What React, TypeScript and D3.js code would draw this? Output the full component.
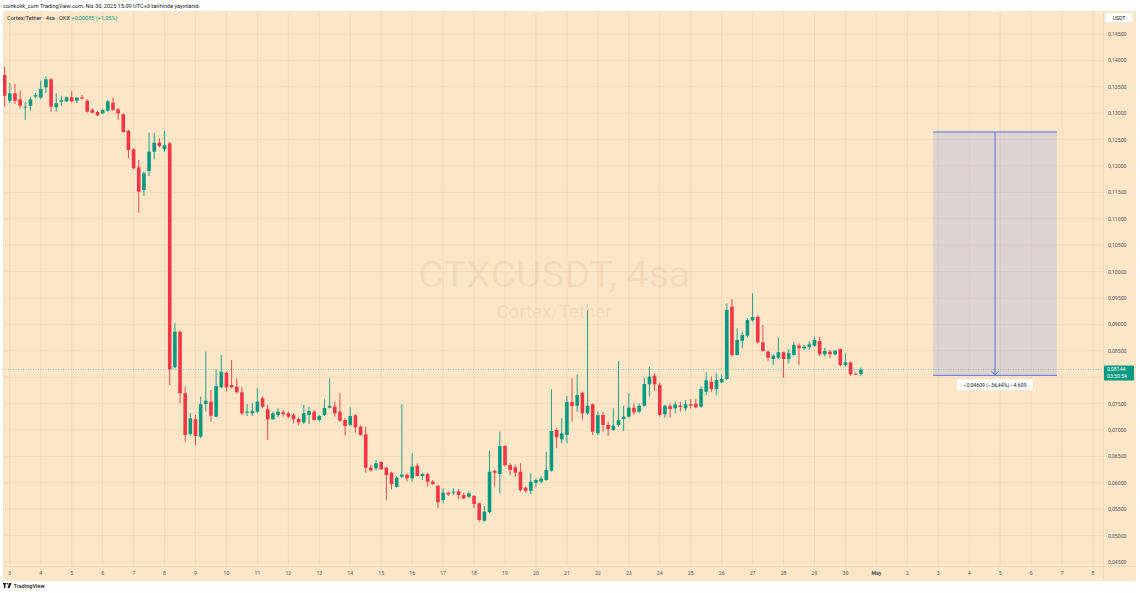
import React from "react";
import * as d3 from "d3";

// ---- DATA (CTX/USDT, 4h candles, first candle 2 Apr 2025 20:00) ----
const opens = [
  0.13723, 0.13237, 0.13377, 0.13263, 0.13112, 0.13142, 0.13313, 0.13294, 0.13491, 0.13642,
  0.13112, 0.13218, 0.13225, 0.13301, 0.13237, 0.13301, 0.13237, 0.13061, 0.13023, 0.12998,
  0.13047, 0.13199, 0.13074, 0.12979, 0.12669, 0.12316, 0.11975, 0.11545, 0.11905, 0.12271,
  0.12441, 0.12316, 0.1243, 0.08188, 0.08862, 0.07695, 0.06924, 0.07203, 0.06873, 0.07493,
  0.07536, 0.07252, 0.07809, 0.08085, 0.07852, 0.0782, 0.07714, 0.07328, 0.07316, 0.07347,
  0.07601, 0.07392, 0.07203, 0.07284, 0.07335, 0.07316, 0.07284, 0.07209, 0.07146, 0.07284,
  0.07347, 0.0719, 0.07284, 0.07423, 0.07441, 0.07347, 0.0719, 0.07095, 0.07279, 0.07063,
  0.06919, 0.06286, 0.06275, 0.06394, 0.06286, 0.06191, 0.05921, 0.06116, 0.06154, 0.06085,
  0.06324, 0.06129, 0.06167, 0.06021, 0.05945, 0.05674, 0.05813, 0.05813, 0.05839, 0.05769,
  0.05737, 0.0575, 0.05612, 0.05282, 0.05442, 0.06224, 0.06167, 0.06697, 0.06337, 0.06294,
  0.0621, 0.05907, 0.05849, 0.06002, 0.06021, 0.06053, 0.06229, 0.07, 0.06824, 0.06906,
  0.0753, 0.0746, 0.07707, 0.07316, 0.07487, 0.06938, 0.07284, 0.07095, 0.07, 0.07095,
  0.07209, 0.07252, 0.07423, 0.07347, 0.0746, 0.07866, 0.08028, 0.07852, 0.07298, 0.07455,
  0.07411, 0.0746, 0.07411, 0.07487, 0.07498, 0.07441, 0.07726, 0.07915, 0.07777, 0.07903,
  0.07966, 0.09335, 0.08421, 0.08686, 0.08786, 0.09078, 0.09146, 0.08661, 0.08483, 0.08345,
  0.08369, 0.08472, 0.08345, 0.08421, 0.08597, 0.08547, 0.08572, 0.08597, 0.08686, 0.08434,
  0.08483, 0.08434, 0.08534, 0.08231, 0.08282, 0.08066, 0.08059,
];
const highs = [
  0.13881, 0.13572, 0.13553, 0.13426, 0.13218, 0.13307, 0.13388, 0.13616, 0.13705, 0.13661,
  0.13377, 0.13332, 0.13313, 0.1342, 0.13301, 0.13345, 0.13263, 0.13093, 0.13047, 0.13085,
  0.1325, 0.13294, 0.13093, 0.12998, 0.12682, 0.12335, 0.12114, 0.11892, 0.12631, 0.12631,
  0.12525, 0.12663, 0.12455, 0.09032, 0.0888, 0.0782, 0.07322, 0.07284, 0.07631, 0.08483,
  0.07758, 0.0815, 0.08421, 0.08104, 0.08326, 0.07979, 0.0782, 0.07493, 0.07517, 0.0779,
  0.07631, 0.07474, 0.07347, 0.07411, 0.07379, 0.07347, 0.07316, 0.07241, 0.07474, 0.07441,
  0.07379, 0.07284, 0.07582, 0.07979, 0.07536, 0.07695, 0.07222, 0.0743, 0.073, 0.0709,
  0.07063, 0.06337, 0.06432, 0.06407, 0.06305, 0.0621, 0.06129, 0.07487, 0.0618, 0.06559,
  0.0637, 0.06191, 0.06191, 0.06053, 0.05959, 0.05896, 0.05832, 0.05896, 0.05877, 0.05813,
  0.05832, 0.05769, 0.05623, 0.05561, 0.06608, 0.06243, 0.06968, 0.06716, 0.0637, 0.06337,
  0.0637, 0.05927, 0.0618, 0.06085, 0.06116, 0.06589, 0.07771, 0.07032, 0.07222, 0.07644,
  0.07979, 0.08055, 0.07726, 0.0927, 0.07506, 0.07347, 0.07347, 0.07157, 0.07411, 0.08307,
  0.0746, 0.07695, 0.07506, 0.07506, 0.07991, 0.08199, 0.08074, 0.07896, 0.07474, 0.07506,
  0.07536, 0.07536, 0.07568, 0.07587, 0.07587, 0.0782, 0.08093, 0.0801, 0.08074, 0.08055,
  0.094, 0.09481, 0.08926, 0.08862, 0.09116, 0.0959, 0.09172, 0.08989, 0.08515, 0.08434,
  0.08748, 0.08483, 0.08534, 0.08673, 0.08642, 0.0861, 0.0868, 0.08767, 0.08767, 0.08559,
  0.08515, 0.08515, 0.08547, 0.08453, 0.08294, 0.08093, 0.0818,
];
const lows = [
  0.13123, 0.13193, 0.13174, 0.13093, 0.12871, 0.13047, 0.13282, 0.13263, 0.13377, 0.13028,
  0.13028, 0.13136, 0.13212, 0.13206, 0.13188, 0.13263, 0.1301, 0.12998, 0.12947, 0.12985,
  0.13028, 0.13047, 0.12871, 0.12631, 0.12146, 0.11938, 0.11116, 0.11432, 0.11811, 0.12127,
  0.12354, 0.12271, 0.07852, 0.08169, 0.07506, 0.06779, 0.06887, 0.06716, 0.06843, 0.07347,
  0.07157, 0.07241, 0.0779, 0.07726, 0.0779, 0.07695, 0.07284, 0.07265, 0.07265, 0.07316,
  0.07411, 0.06811, 0.0719, 0.07241, 0.07252, 0.07222, 0.07127, 0.07095, 0.07114, 0.07114,
  0.07176, 0.07157, 0.07265, 0.07411, 0.07252, 0.07157, 0.06892, 0.07076, 0.06949, 0.0689,
  0.06191, 0.0621, 0.06229, 0.06243, 0.05674, 0.05877, 0.05915, 0.06091, 0.06021, 0.06021,
  0.06116, 0.06053, 0.05927, 0.05959, 0.05517, 0.05612, 0.0575, 0.05769, 0.05688, 0.05688,
  0.05707, 0.05517, 0.05263, 0.05263, 0.05423, 0.05927, 0.05801, 0.06305, 0.06148, 0.06116,
  0.05832, 0.05813, 0.05788, 0.05915, 0.05991, 0.0604, 0.0621, 0.06654, 0.06748, 0.06748,
  0.07157, 0.07347, 0.0719, 0.07284, 0.06906, 0.06906, 0.06968, 0.06892, 0.06981, 0.07063,
  0.06981, 0.07233, 0.07284, 0.07316, 0.07441, 0.07631, 0.07739, 0.07252, 0.07233, 0.07233,
  0.07316, 0.07347, 0.0736, 0.07411, 0.07411, 0.07423, 0.07663, 0.07726, 0.07663, 0.07885,
  0.07947, 0.08388, 0.08407, 0.08547, 0.08748, 0.09051, 0.08642, 0.08483, 0.08307, 0.08231,
  0.08345, 0.07991, 0.08263, 0.08407, 0.08231, 0.08515, 0.08515, 0.08578, 0.08407, 0.08388,
  0.08369, 0.08407, 0.08199, 0.08199, 0.08028, 0.08042, 0.08028,
];
const closes = [
  0.13332, 0.13377, 0.13237, 0.13142, 0.13123, 0.13263, 0.13345, 0.13458, 0.13642, 0.13123,
  0.13188, 0.13244, 0.13301, 0.13225, 0.13294, 0.13275, 0.13028, 0.1301, 0.1296, 0.13061,
  0.13225, 0.13061, 0.12998, 0.12644, 0.12303, 0.11957, 0.11513, 0.11862, 0.12271, 0.12441,
  0.12379, 0.12392, 0.0815, 0.08862, 0.07695, 0.06906, 0.07222, 0.06887, 0.07487, 0.07555,
  0.07271, 0.07833, 0.08104, 0.07809, 0.07809, 0.07714, 0.07316, 0.07347, 0.0736, 0.07536,
  0.07441, 0.07203, 0.07316, 0.07347, 0.07303, 0.07252, 0.07203, 0.07146, 0.07316, 0.0736,
  0.0719, 0.07265, 0.07417, 0.07455, 0.07316, 0.07176, 0.07076, 0.07265, 0.07051, 0.06906,
  0.06286, 0.06237, 0.0637, 0.06256, 0.06148, 0.05977, 0.06097, 0.06154, 0.06085, 0.06305,
  0.06129, 0.06167, 0.06021, 0.05977, 0.05631, 0.05813, 0.05782, 0.05832, 0.05769, 0.05707,
  0.05801, 0.05599, 0.05296, 0.05453, 0.0621, 0.06191, 0.06697, 0.06337, 0.06243, 0.06191,
  0.05864, 0.05849, 0.06021, 0.06053, 0.06078, 0.06243, 0.06981, 0.06862, 0.06938, 0.0753,
  0.07455, 0.07663, 0.07316, 0.0746, 0.06968, 0.07284, 0.07095, 0.07019, 0.07082, 0.0719,
  0.07252, 0.07423, 0.07335, 0.0746, 0.07871, 0.0801, 0.07866, 0.07284, 0.0746, 0.07398,
  0.07487, 0.07436, 0.07487, 0.0746, 0.0743, 0.07777, 0.07941, 0.07777, 0.07947, 0.07966,
  0.09273, 0.08421, 0.08705, 0.08799, 0.09083, 0.0914, 0.08661, 0.08496, 0.08369, 0.08407,
  0.08472, 0.08345, 0.08453, 0.0861, 0.08547, 0.08578, 0.08623, 0.08705, 0.08434, 0.08496,
  0.08434, 0.08502, 0.08231, 0.08282, 0.08055, 0.08059, 0.08144,
];

const timeTickLabels = [
  "3", "4", "5", "6", "7", "8", "9", "10", "11", "12", "13", "14", "15", "16", "17", "18",
  "19", "20", "21", "22", "23", "24", "25", "26", "27", "28", "29", "30", "May", "2", "3",
  "4", "5", "6", "7", "8",
];
const priceTicks = [
  0.145, 0.14, 0.135, 0.13, 0.125, 0.12, 0.115, 0.11, 0.105, 0.1, 0.095, 0.09, 0.085, 0.08,
  0.075, 0.07, 0.065, 0.06, 0.055, 0.05, 0.045,
];
const lastPrice = 0.08144;
const rangeTop = 0.12644;
const rangeBottom = 0.08035;
const rangeStart = Date.UTC(2025, 4, 2, 20);
const rangeEnd = Date.UTC(2025, 4, 6, 20);
const firstCandleTime = Date.UTC(2025, 3, 2, 20);
const candleMs = 4 * 3600 * 1000;

// ---- STYLE ----
const BG = "#FCE6C8";
const GRID = "rgba(150,110,60,0.09)";
const UP = "#089981";
const DOWN = "#F23645";
const FONT = "Roboto, 'Noto Sans', sans-serif";
const TXT = "#131722";
const AX = "#50535E";

const plotL = 3, plotR = 1103, plotT = 11, plotB = 566;

export default function App() {
  const x = d3
    .scaleUtc()
    .domain([Date.UTC(2025, 3, 3), Date.UTC(2025, 4, 8)])
    .range([9.8, 9.8 + 35 * 30.95]);
  const y = d3.scaleLinear().domain([0.045, 0.145]).range([562, 34]);
  const tickDates = d3.utcDay.range(Date.UTC(2025, 3, 3), Date.UTC(2025, 4, 9));
  const fmtPrice = (v: number) => v.toFixed(5).replace(".", ",");

  const candles = opens.map((o, i) => ({
    t: firstCandleTime + i * candleMs,
    o,
    h: highs[i],
    l: lows[i],
    c: closes[i],
  }));
  const bw = 3.6;

  const rx0 = x(rangeStart), rx1 = x(rangeEnd), ry0 = y(rangeTop), ry1 = y(rangeBottom);
  const rcx = (rx0 + rx1) / 2;
  const ly = y(lastPrice);

  return (
    <svg
      width={1140}
      height={593}
      style={{ position: "fixed", left: 0, top: 0, background: "#fff" }}
      fontFamily={FONT}
    >
      <rect x={0} y={0} width={1140} height={593} fill="#fff" />
      <text x={3} y={8} fontSize={5.6} fill={TXT}>
        coinkolik_com TradingView.com, Nis 30, 2025 15:09 UTC+3 tarihinde yayınlandı
      </text>
      {/* chart background */}
      <rect x={plotL} y={plotT} width={1136 - plotL} height={581 - plotT} fill={BG} />

      <defs>
        <clipPath id="plot">
          <rect x={plotL} y={plotT} width={plotR - plotL} height={plotB - plotT} />
        </clipPath>
      </defs>

      {/* grid */}
      <g clipPath="url(#plot)">
        {tickDates.map((d, i) => (
          <line key={"v" + i} x1={x(d)} x2={x(d)} y1={plotT} y2={plotB} stroke={GRID} strokeWidth={1} />
        ))}
        {priceTicks.map((p, i) => (
          <line key={"h" + i} x1={plotL} x2={plotR} y1={y(p)} y2={y(p)} stroke={GRID} strokeWidth={1} />
        ))}
      </g>

      {/* watermark */}
      <text x={554} y={287} textAnchor="middle" fontSize={37} fill="rgba(140,100,50,0.09)" textLength={272} lengthAdjust="spacingAndGlyphs">
        CTXCUSDT, 4sa
      </text>
      <text x={554} y={318} textAnchor="middle" fontSize={18} fill="rgba(140,100,50,0.09)" textLength={115} lengthAdjust="spacingAndGlyphs">
        Cortex/Tether
      </text>

      {/* header legend */}
      <text x={7} y={19.5} fontSize={5.6} fill={TXT}>
        Cortex/Tether · 4sa · OKX{" "}
        <tspan fill={UP}>+0,00085 (+1,05%)</tspan>
      </text>

      {/* candles */}
      <g clipPath="url(#plot)">
        {candles.map((d, i) => {
          const cx = x(d.t);
          const col = d.c >= d.o ? UP : DOWN;
          const top = y(Math.max(d.o, d.c));
          const bot = y(Math.min(d.o, d.c));
          return (
            <g key={i}>
              <line x1={cx} x2={cx} y1={y(d.h)} y2={y(d.l)} stroke={col} strokeWidth={0.9} />
              <rect x={cx - bw / 2} y={top} width={bw} height={Math.max(0.8, bot - top)} fill={col} />
            </g>
          );
        })}
      </g>

      {/* last price line */}
      <line x1={plotL} x2={plotR} y1={ly} y2={ly} stroke={UP} strokeWidth={0.6} strokeDasharray="1 1.5" opacity={0.8} />

      {/* price range tool */}
      <rect x={rx0} y={ry0} width={rx1 - rx0} height={ry1 - ry0} fill="rgba(41,98,255,0.14)" />
      <line x1={rx0} x2={rx1} y1={ry0} y2={ry0} stroke="#5672E8" strokeWidth={1} />
      <line x1={rx0} x2={rx1} y1={ry1} y2={ry1} stroke="#5672E8" strokeWidth={1} />
      <line x1={rcx} x2={rcx} y1={ry0} y2={ry1} stroke="#5672E8" strokeWidth={1} />
      <path d={`M${rcx - 3.5},${ry1 - 4} L${rcx},${ry1 - 0.5} L${rcx + 3.5},${ry1 - 4}`} fill="none" stroke="#5672E8" strokeWidth={1} />
      <rect x={rcx - 38} y={ry1 + 4} width={76} height={11} rx={1.5} fill="#fff" />
      <text x={rcx} y={ry1 + 11.5} textAnchor="middle" fontSize={5.2} fill={TXT}>
        −0,04609 (−36,44%) −4.609
      </text>

      {/* axes separators */}
      <line x1={plotL} x2={1136} y1={plotB + 0.5} y2={plotB + 0.5} stroke="rgba(0,0,0,0.05)" />
      <line x1={plotR + 0.5} x2={plotR + 0.5} y1={plotT} y2={581} stroke="rgba(0,0,0,0.05)" />

      {/* price axis */}
      <rect x={1105} y={12.5} width={28} height={10} rx={1.5} fill="#fff" stroke="rgba(0,0,0,0.08)" strokeWidth={0.5} />
      <text x={1119} y={19.5} textAnchor="middle" fontSize={5} fill={TXT}>USDT</text>
      {priceTicks
        .filter((p) => Math.abs(y(p) - ly) > 8)
        .map((p, i) => (
          <text key={"pt" + i} x={1108} y={y(p) + 2} fontSize={5.2} fill={AX}>
            {fmtPrice(p)}
          </text>
        ))}
      <rect x={1104} y={ly - 4} width={30} height={15} rx={1} fill={UP} />
      <text x={1107} y={ly + 1.8} fontSize={5.2} fill="#fff">{fmtPrice(lastPrice)}</text>
      <text x={1107} y={ly + 8.6} fontSize={5.2} fill="#fff">03:50:54</text>

      {/* time axis */}
      {tickDates.map((d, i) => (
        <text
          key={"tt" + i}
          x={x(d)}
          y={575}
          textAnchor="middle"
          fontSize={5.2}
          fill={AX}
          fontWeight={timeTickLabels[i] === "May" ? 700 : 400}
        >
          {timeTickLabels[i]}
        </text>
      ))}

      {/* TradingView logo */}
      <g transform="translate(3,583)" fill="#131722">
        <rect x={0} y={0} width={3.2} height={1.4} />
        <rect x={1} y={0} width={1.4} height={5} />
        <circle cx={4.6} cy={0.8} r={0.8} />
        <path d="M6.2,0 L8.4,0 L6.6,5 L4.6,5 Z" />
        <text x={10.5} y={4.6} fontSize={5.6} fontWeight={500} fill="#131722">TradingView</text>
      </g>
    </svg>
  );
}
